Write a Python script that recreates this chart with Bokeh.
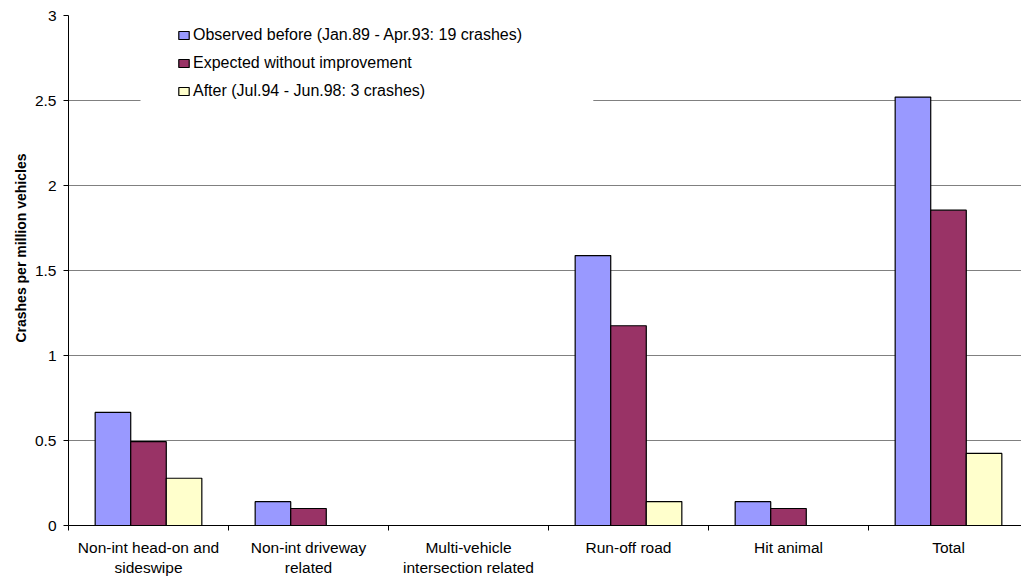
import numpy as np
from bokeh.plotting import figure
from bokeh.models import (ColumnDataSource, FixedTicker, Legend, LegendItem,
                          BoxAnnotation, Range1d, Title)
from bokeh.transform import dodge
from bokeh.embed import file_html
from bokeh.resources import INLINE

# Crash rates per million vehicles, by crash type
categories = ["Non-int head-on and\nsideswipe", "Non-int driveway\nrelated",
              "Multi-vehicle\nintersection related", "Run-off road",
              "Hit animal", "Total"]
observed_before = [0.665, 0.14, 0.0, 1.588, 0.14, 2.52]
expected_without = [0.493, 0.10, 0.0, 1.175, 0.10, 1.855]
after = [0.278, 0.0, 0.0, 0.141, 0.0, 0.424]

series_names = ["Observed before (Jan.89 - Apr.93: 19 crashes)",
                "Expected without improvement",
                "After (Jul.94 - Jun.98: 3 crashes)"]
series_colors = ["#9999FF", "#993366", "#FFFFCC"]

y_ticks = [0, 0.5, 1, 1.5, 2, 2.5, 3]
y_tick_labels = ["0", "0.5", "1", "1.5", "2", "2.5", "3"]
y_title = "Crashes per million vehicles"

FONT = "Liberation Sans"

centers = np.arange(len(categories)) + 0.5
src = ColumnDataSource(dict(x=centers, obs=observed_before,
                            exp=expected_without, aft=after))

p = figure(frame_width=953, frame_height=510,
           min_border_left=68, min_border_right=0,
           min_border_top=15, min_border_bottom=52,
           x_range=Range1d(0, 953 / 160), y_range=Range1d(0, 3),
           output_backend="svg", toolbar_location=None,
           background_fill_color="white", border_fill_color="white")
p.outline_line_color = None

bar_w = 1 / 4.5  # 150% gap between groups
renderers = []
for field, offset, color in zip(["obs", "exp", "aft"],
                                [-bar_w, 0.0, bar_w], series_colors):
    r = p.vbar(x=dodge("x", offset), top=field, width=bar_w, bottom=0,
               source=src, fill_color=color, line_color="black",
               line_width=1.2)
    renderers.append(r)

# x axis: labels at category centres, short ticks at the boundaries
p.xaxis.ticker = FixedTicker(ticks=list(centers),
                             minor_ticks=list(range(len(categories))))
p.xaxis.major_label_overrides = {float(c): lab for c, lab in zip(centers, categories)}
p.xaxis.major_tick_out = 0
p.xaxis.major_tick_in = 0
p.xaxis.minor_tick_out = 5
p.xaxis.minor_tick_in = 0
p.xaxis.minor_tick_line_color = "black"
p.xaxis.axis_line_color = "black"
p.xaxis.major_label_standoff = 8
p.xaxis.major_label_text_font = FONT
p.xaxis.major_label_text_font_size = "15.5px"
p.xaxis.major_label_text_color = "black"

# y axis
p.yaxis.ticker = FixedTicker(ticks=y_ticks, minor_ticks=[])
p.yaxis.major_label_overrides = {float(t): s for t, s in zip(y_ticks, y_tick_labels)}
p.yaxis.major_tick_out = 5
p.yaxis.major_tick_in = 0
p.yaxis.major_tick_line_color = "black"
p.yaxis.axis_line_color = "black"
p.yaxis.major_label_standoff = 7
p.yaxis.major_label_text_font = FONT
p.yaxis.major_label_text_font_size = "15.5px"
p.yaxis.major_label_text_color = "black"

# y axis title, set a little above the middle of the plot area
p.add_layout(Title(text=y_title, align="right", offset=138,
                   text_font=FONT, text_font_size="14px",
                   text_font_style="bold", text_color="black",
                   standoff=6), "left")

p.xgrid.grid_line_color = None
p.ygrid.ticker = FixedTicker(ticks=y_ticks)
p.ygrid.grid_line_color = "#808080"
p.ygrid.grid_line_width = 1

# white panel behind the legend
p.add_layout(BoxAnnotation(left=0.45, right=3.28, bottom=2.3, top=2.95,
                           fill_color="white", fill_alpha=1.0,
                           line_alpha=0.0))

items = [LegendItem(label=name, renderers=[r])
         for name, r in zip(series_names, renderers)]
legend = Legend(items=items, location=(109, 425), padding=0, spacing=10,
                glyph_width=13, glyph_height=10, label_standoff=3,
                label_text_font=FONT, label_text_font_size="16px",
                label_text_color="black", background_fill_alpha=0.0,
                border_line_alpha=0.0)
p.add_layout(legend, "center")

open("out.html", "w").write(file_html(p, INLINE))
